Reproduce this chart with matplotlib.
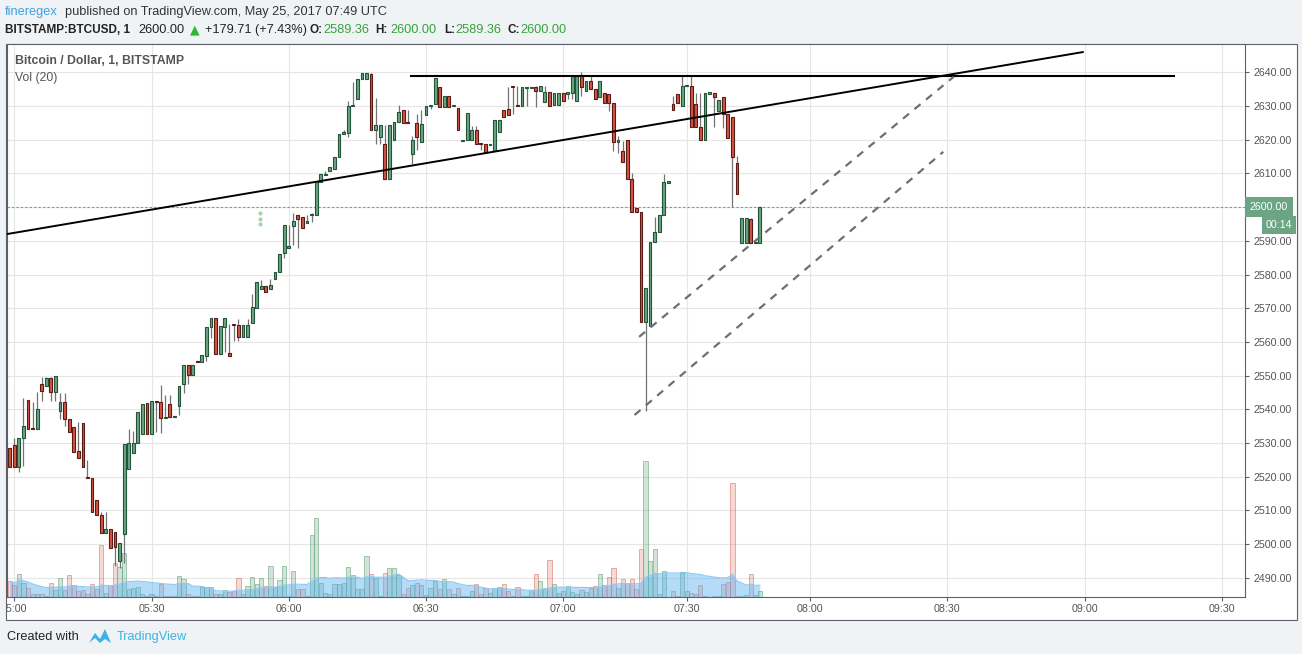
import matplotlib
matplotlib.use("Agg")
import matplotlib.pyplot as plt
import matplotlib.transforms as mtransforms
from matplotlib import font_manager
from matplotlib.patches import Rectangle, Polygon
import numpy as np
import pandas as pd

# BITSTAMP:BTCUSD 1 minute bars, 04:59 -> 07:49 UTC
opens = [2528.4, 2529.4, 2523.0, 2531.4, 2542.7, 2534.3, 2534.1, 2547.4, 2546.9, 2549.2,
         2545.2, 2539.6, 2542.2, 2537.0, 2534.7, 2527.6, 2535.8, 2519.6, 2519.5, 2513.0,
         2508.5, 2503.4, 2504.4, 2503.5, 2494.9, 2502.9, 2522.2, 2527.1, 2529.9, 2532.6,
         2541.8, 2532.6, 2542.4, 2542.1, 2537.4, 2541.6, 2537.8, 2541.1, 2547.5, 2553.1,
         2550.3, 2554.1, 2553.9, 2555.9, 2564.3, 2567.0, 2556.3, 2564.5, 2556.6, 2565.0,
         2564.9, 2561.5, 2561.5, 2565.5, 2570.2, 2575.6, 2576.6, 2575.6, 2578.7, 2580.7,
         2586.3, 2588.0, 2594.5, 2597.6, 2597.1, 2595.4, 2597.7, 2597.7, 2607.5, 2609.6,
         2610.8, 2611.2, 2614.8, 2621.8, 2621.9, 2629.9, 2632.0, 2637.9, 2637.9, 2639.4,
         2622.8, 2620.7, 2618.6, 2608.2, 2619.8, 2625.3, 2628.7, 2625.0, 2615.7, 2624.9,
         2619.2, 2627.2, 2629.9, 2630.5, 2635.5, 2629.8, 2633.0, 2629.9, 2629.3, 2619.7,
         2619.8, 2619.8, 2622.8, 2618.7, 2618.6, 2618.5, 2616.6, 2622.2, 2628.7, 2629.0,
         2635.6, 2630.0, 2629.9, 2635.4, 2635.4, 2635.5, 2634.5, 2631.3, 2634.1, 2630.4,
         2630.4, 2633.8, 2633.7, 2633.8, 2631.6, 2638.8, 2634.5, 2637.3, 2634.9, 2632.8,
         2633.8, 2633.5, 2630.8, 2619.2, 2616.6, 2619.8, 2608.2, 2599.6, 2598.5, 2565.8,
         2564.8, 2589.6, 2592.5, 2597.7, 2607.3, 2630.5, 2633.5, 2630.1, 2635.8, 2635.9,
         2630.5, 2623.9, 2619.8, 2633.7, 2633.8, 2628.6, 2632.8, 2627.6, 2626.6, 2613.0,
         2589.4, 2589.4, 2596.4, 2589.3, 2589.36]
highs = [2528.4, 2531.4, 2531.4, 2543.3, 2542.7, 2542.3, 2545.0, 2549.7, 2549.7, 2549.7,
         2549.9, 2544.7, 2544.8, 2537.0, 2534.7, 2536.3, 2535.8, 2525.0, 2519.5, 2513.0,
         2509.6, 2509.6, 2504.4, 2503.5, 2500.2, 2529.6, 2534.1, 2533.5, 2539.1, 2541.6,
         2541.8, 2542.4, 2542.4, 2547.2, 2544.2, 2544.2, 2537.9, 2546.9, 2553.1, 2553.1,
         2553.1, 2554.1, 2556.1, 2564.4, 2567.0, 2567.0, 2564.8, 2567.0, 2565.3, 2565.0,
         2566.7, 2564.9, 2566.7, 2574.2, 2577.7, 2578.4, 2576.6, 2578.7, 2580.7, 2586.1,
         2594.7, 2594.7, 2598.2, 2597.6, 2597.1, 2597.6, 2598.2, 2607.5, 2609.7, 2610.7,
         2611.8, 2614.8, 2621.7, 2622.9, 2631.5, 2637.0, 2637.9, 2639.7, 2639.7, 2639.7,
         2632.3, 2624.3, 2624.3, 2624.3, 2625.3, 2630.3, 2628.7, 2628.8, 2621.1, 2627.6,
         2628.8, 2630.0, 2630.0, 2638.4, 2635.5, 2633.0, 2633.0, 2630.0, 2629.3, 2619.8,
         2627.8, 2624.0, 2624.0, 2618.7, 2618.6, 2618.6, 2625.8, 2625.8, 2628.7, 2635.7,
         2636.0, 2635.9, 2635.5, 2635.5, 2635.5, 2636.0, 2635.8, 2636.0, 2634.1, 2633.8,
         2633.8, 2633.8, 2633.8, 2638.8, 2638.8, 2640.0, 2637.3, 2638.8, 2634.9, 2637.3,
         2633.8, 2633.5, 2630.8, 2621.1, 2619.5, 2619.8, 2610.2, 2599.6, 2598.5, 2575.9,
         2589.7, 2597.2, 2597.7, 2609.8, 2607.4, 2633.0, 2633.5, 2638.9, 2635.9, 2638.9,
         2634.0, 2633.8, 2633.8, 2633.8, 2633.8, 2631.7, 2632.8, 2627.6, 2626.6, 2615.2,
         2596.7, 2596.7, 2596.7, 2589.4, 2600.00]
lows = [2523.0, 2523.0, 2521.5, 2523.2, 2534.1, 2534.1, 2534.1, 2542.6, 2546.9, 2542.6,
        2542.6, 2537.1, 2535.1, 2533.2, 2527.4, 2525.6, 2523.0, 2519.5, 2509.6, 2508.5,
        2503.4, 2503.4, 2498.8, 2493.6, 2492.8, 2494.3, 2522.2, 2527.1, 2529.9, 2532.6,
        2532.6, 2532.6, 2533.4, 2533.0, 2537.4, 2537.6, 2537.8, 2538.3, 2544.7, 2547.4,
        2550.3, 2554.0, 2553.9, 2554.3, 2561.1, 2556.3, 2556.3, 2556.9, 2555.9, 2560.4,
        2560.4, 2561.5, 2561.5, 2565.5, 2570.2, 2575.6, 2574.9, 2575.6, 2578.7, 2580.7,
        2585.0, 2588.0, 2588.8, 2587.8, 2593.7, 2595.4, 2595.7, 2597.7, 2607.5, 2609.6,
        2610.8, 2611.2, 2614.8, 2621.8, 2620.9, 2629.9, 2632.0, 2637.9, 2637.9, 2622.8,
        2618.6, 2618.6, 2608.2, 2608.2, 2619.8, 2625.3, 2624.9, 2624.9, 2612.7, 2616.9,
        2619.2, 2627.2, 2629.0, 2630.5, 2629.8, 2629.8, 2629.8, 2629.9, 2622.8, 2619.7,
        2619.8, 2619.8, 2618.6, 2617.0, 2616.4, 2618.5, 2616.6, 2622.2, 2626.6, 2627.2,
        2627.5, 2629.9, 2629.9, 2630.1, 2635.4, 2629.8, 2634.5, 2631.3, 2629.9, 2630.4,
        2630.4, 2631.6, 2632.0, 2632.0, 2631.6, 2632.9, 2634.5, 2634.9, 2632.0, 2632.8,
        2630.8, 2628.5, 2616.7, 2616.1, 2613.3, 2608.2, 2598.5, 2598.5, 2565.8, 2539.6,
        2564.8, 2589.6, 2592.5, 2597.7, 2607.3, 2628.7, 2630.8, 2630.1, 2635.8, 2623.9,
        2623.9, 2619.8, 2619.8, 2633.7, 2623.9, 2628.6, 2623.4, 2620.4, 2600.0, 2603.8,
        2589.4, 2589.4, 2589.4, 2589.3, 2589.36]
closes = [2523.0, 2523.0, 2531.4, 2535.0, 2534.1, 2534.1, 2540.0, 2545.3, 2549.2, 2545.2,
          2549.9, 2542.2, 2537.0, 2533.2, 2527.4, 2525.6, 2523.0, 2519.5, 2509.6, 2508.5,
          2503.4, 2504.4, 2498.8, 2499.2, 2500.2, 2529.6, 2529.9, 2529.9, 2539.1, 2541.6,
          2532.6, 2542.4, 2542.2, 2537.3, 2537.6, 2537.6, 2537.9, 2546.9, 2553.1, 2550.3,
          2553.1, 2554.0, 2556.1, 2564.4, 2567.0, 2556.3, 2564.8, 2567.0, 2555.9, 2564.9,
          2561.5, 2564.9, 2564.9, 2570.4, 2577.7, 2576.6, 2574.9, 2576.8, 2580.7, 2586.1,
          2594.7, 2588.1, 2595.8, 2596.4, 2593.7, 2595.5, 2597.8, 2607.5, 2609.7, 2609.7,
          2611.8, 2614.8, 2621.7, 2621.9, 2630.0, 2630.0, 2637.9, 2639.7, 2639.7, 2622.8,
          2624.3, 2624.3, 2608.2, 2624.3, 2625.3, 2628.1, 2624.9, 2624.9, 2619.8, 2620.7,
          2624.6, 2630.0, 2630.0, 2638.4, 2629.8, 2633.0, 2629.8, 2630.0, 2622.8, 2619.8,
          2627.8, 2622.8, 2618.6, 2618.6, 2616.4, 2618.6, 2625.8, 2625.8, 2626.6, 2627.2,
          2635.5, 2629.9, 2635.5, 2635.5, 2635.5, 2634.5, 2635.8, 2634.1, 2629.9, 2633.8,
          2633.8, 2631.6, 2633.8, 2638.8, 2638.8, 2635.7, 2637.3, 2634.9, 2632.0, 2637.3,
          2630.8, 2630.8, 2619.2, 2619.8, 2613.3, 2608.2, 2598.5, 2598.5, 2565.8, 2575.9,
          2589.7, 2592.5, 2597.7, 2607.4, 2607.4, 2628.7, 2630.8, 2635.9, 2635.9, 2623.9,
          2623.9, 2619.8, 2633.8, 2633.8, 2632.8, 2631.7, 2627.6, 2620.4, 2615.0, 2603.8,
          2596.7, 2596.7, 2589.4, 2589.4, 2600.00]
volumes = [15.7, 12.3, 23.3, 14.3, 9.3, 3.3, 2.7, 2.7, 0.7, 14.3,
           6.7, 18.7, 6.7, 22.3, 12.3, 6.0, 6.7, 2.7, 13.3, 7.7,
           52.3, 4.3, 11.7, 34.3, 30.0, 44.3, 7.7, 9.0, 10.0, 3.3,
           1.0, 2.7, 0.7, 12.7, 0.7, 0.7, 0.7, 21.3, 18.3, 2.7,
           1.3, 0.7, 10.0, 10.0, 10.0, 2.7, 3.3, 7.3, 5.3, 6.0,
           18.7, 2.7, 11.3, 20.3, 12.7, 18.7, 11.3, 31.3, 10.3, 17.3,
           31.3, 0.7, 26.3, 7.7, 7.7, 0.7, 62.3, 79.3, 14.3, 4.3,
           3.3, 12.7, 12.7, 13.7, 30.3, 22.0, 7.7, 7.7, 41.3, 23.0,
           18.7, 1.0, 24.3, 28.7, 28.7, 22.0, 3.3, 9.3, 12.3, 13.7,
           11.7, 2.3, 8.7, 16.3, 7.7, 18.3, 7.7, 2.7, 8.7, 1.3,
           1.0, 6.3, 13.3, 2.7, 8.7, 4.3, 8.7, 10.3, 13.3, 6.3,
           0.7, 9.7, 1.3, 1.3, 7.3, 22.7, 16.3, 9.3, 36.7, 13.3,
           4.3, 6.0, 10.7, 5.3, 2.7, 6.7, 5.3, 9.3, 11.3, 23.3,
           12.3, 20.3, 29.3, 8.7, 17.7, 14.3, 17.7, 8.0, 48.3, 136.3,
           35.7, 48.3, 3.3, 25.7, 0.5, 6.3, 1.3, 24.3, 6.3, 4.3,
           3.3, 12.3, 1.3, 0.5, 1.3, 0.7, 13.3, 15.3, 114.3, 0.7,
           0.7, 2.0, 22.7, 2.0, 5.7]

tick_bars = [1, 31, 61, 91, 121, 148, 175, 205, 235, 265]
tick_labels = ["05:00", "05:30", "06:00", "06:30", "07:00",
               "07:30", "08:00", "08:30", "09:00", "09:30"]
price_ticks = list(range(2490, 2641, 10))

# hand drawn lines on the chart: (bar index pair, price pair)
resistance = ([87.7, 254.5], [2638.8, 2638.8])
trend_line = ([-0.6, 234.6], [2592.0, 2646.0])
channel_top = ([137.6, 206.4], [2561.5, 2638.7])
channel_bottom = ([136.6, 204.1], [2538.3, 2616.4])
marker_dots = ([54.8, 54.8, 54.8], [2598.3, 2596.6, 2594.9])

last_price = 2600.00
countdown = "00:14"

W, H = 1302, 654
names = {f.name for f in font_manager.fontManager.ttflist}
SANS = "Liberation Sans" if "Liberation Sans" in names else "DejaVu Sans"
NARROW = "Liberation Sans Narrow" if "Liberation Sans Narrow" in names else SANS
plt.rcParams["font.family"] = [SANS, "DejaVu Sans"]

UP, DOWN = "#6ba583", "#d75442"
UP_EDGE, DOWN_EDGE = "#225437", "#5b1a13"
AXIS = "#5d606b"


def fx(px):
    return px / W


def fy(py):
    return 1 - py / H


fig = plt.figure(figsize=(W / 100, H / 100), dpi=100)
fig.patch.set_facecolor("#f0f3f6")

# white chart frame (plot + price scale + time scale), behind the axes
fig.patches.append(Rectangle((fx(6), fy(620)), fx(1297) - fx(6), fy(44) - fy(620),
                             transform=fig.transFigure, facecolor="white",
                             edgecolor=AXIS, linewidth=0.8, zorder=-5))

# ax2: volume pane (bottom layer), ax: price pane on top
ax2 = fig.add_axes([fx(7), fy(597), fx(1245) - fx(7), fy(44) - fy(597)])
ax = ax2.twinx()
ax.set_zorder(ax2.get_zorder() + 1)
ax.patch.set_visible(False)
ax2.patch.set_facecolor("white")

x = np.arange(len(opens))
o = np.array(opens)
c = np.array(closes)
hi = np.array(highs)
lo = np.array(lows)
up = c >= o

ax.set_xlim(-0.6, 270.07)
ax.set_ylim(2484.3, 2648.4)
ax2.set_ylim(0, 553)

# grid under the volume
ymix = mtransforms.blended_transform_factory(ax2.transAxes, ax.transData)
for p in price_ticks:
    ax2.plot([0, 1], [p, p], transform=ymix, color="#e6e6e6", lw=0.8, zorder=0)
for tb in tick_bars:
    ax2.axvline(tb, color="#e6e6e6", lw=0.8, zorder=0)

# volume with its 20 bar average
vol_face = [(0.42, 0.65, 0.51, 0.3) if u else (0.84, 0.33, 0.26, 0.22) for u in up]
vol_edge = [(0.42, 0.65, 0.51, 0.6) if u else (0.84, 0.33, 0.26, 0.45) for u in up]
ax2.bar(x, volumes, width=0.92, color=vol_face, edgecolor=vol_edge, linewidth=0.7, zorder=1)
vol_ma = pd.Series(volumes).rolling(20, min_periods=1).mean()
ax2.fill_between(x, 0, vol_ma, color="#5ab0f0", alpha=0.45, lw=0, zorder=2)
ax2.plot(x, vol_ma, color="#8cc8f2", lw=0.8, zorder=2)
ax2.set_yticks([])
for s in ax2.spines.values():
    s.set_visible(False)

# candles
ax.vlines(x, lo, hi, color="#737375", lw=0.9, zorder=3)
body_lo = np.minimum(o, c)
body_h = np.maximum(np.abs(c - o), 0.35)
ax.bar(x, body_h, bottom=body_lo, width=0.62,
       color=[UP if u else DOWN for u in up],
       edgecolor=[UP_EDGE if u else DOWN_EDGE for u in up],
       linewidth=0.8, zorder=4)

ax.axhline(last_price, color=UP, lw=0.8, ls=(0, (2, 2)), zorder=2)
ax.scatter(*marker_dots, s=4, color="#a5d6a7", zorder=3)

# drawings
ax.plot(*resistance, color="black", lw=1.5, zorder=5)
ax.plot(*trend_line, color="black", lw=1.4, zorder=5)
ax.plot(*channel_top, color="#6f6f6f", lw=1.6, ls=(0, (3.5, 3.2)), zorder=5)
ax.plot(*channel_bottom, color="#6f6f6f", lw=1.6, ls=(0, (3.5, 3.2)), zorder=5)

# price scale (2600 label is covered by the last price tag)
ax.set_yticks(price_ticks, ["" if p == last_price else f"{p:.2f}" for p in price_ticks])
ax.tick_params(axis="y", direction="out", length=3, pad=3, labelsize=7.7,
               labelcolor="#555555", color=AXIS, width=0.8)
# time scale lives on the bottom (volume) axes
ax2.set_xticks(tick_bars, tick_labels)
ax2.tick_params(axis="x", direction="out", length=3, pad=2, labelsize=7.7,
                labelcolor="#555555", color=AXIS, width=0.8)
for lab in ax.get_yticklabels() + ax2.get_xticklabels():
    lab.set_fontfamily(NARROW)
for s in ax.spines.values():
    s.set_color(AXIS)
    s.set_linewidth(0.8)

xmix = mtransforms.blended_transform_factory(ax.transAxes, ax.transData)
ax.annotate(f"{last_price:.2f}", xy=(1.0, last_price), xycoords=xmix,
            xytext=(3.6, 0), textcoords="offset points", ha="left", va="center",
            fontsize=7.7, fontfamily=NARROW, color="white", annotation_clip=False, zorder=10,
            bbox=dict(boxstyle="square,pad=0.45", fc=UP, ec="none"))
fig.text(fx(1292), fy(225), countdown, ha="right", va="center", fontsize=7.7,
         fontfamily=NARROW, color="white",
         bbox=dict(boxstyle="square,pad=0.35", fc=UP, ec="none"))

# legend texts inside the pane
fig.text(fx(15), fy(61), "Bitcoin / Dollar, 1, BITSTAMP", ha="left", va="center",
         fontsize=8.8, color="#555555", fontweight="bold")
fig.text(fx(15), fy(78), "Vol (20)", ha="left", va="center", fontsize=8.8, color="#555555")

# header
GREEN = "#37a33b"
fig.text(fx(5), fy(12), "fineregex", fontsize=9.2, color="#3ba0e2", va="center")
fig.text(fx(65), fy(12), "published on TradingView.com, May 25, 2017 07:49 UTC",
         fontsize=9.2, color="#333333", va="center")
row = [(5, "BITSTAMP:BTCUSD, 1", "#222222", "bold"),
       (138, "2600.00", "#222222", "normal"),
       (205, "+179.71 (+7.43%)", "#222222", "normal"),
       (309, "O:", "#222222", "bold"), (323, "2589.36", GREEN, "normal"),
       (375, "H:", "#222222", "bold"), (390, "2600.00", GREEN, "normal"),
       (444, "L:", "#222222", "bold"), (455, "2589.36", GREEN, "normal"),
       (507, "C:", "#222222", "bold"), (520, "2600.00", GREEN, "normal")]
for px, txt, col, wt in row:
    fig.text(fx(px), fy(30), txt, fontsize=8.5 if wt == "bold" else 9.2, color=col,
             fontweight=wt, va="center")
fig.text(fx(190), fy(30), "\u25b2", fontsize=9, color="#2eb82e", va="center",
         fontfamily="DejaVu Sans")

# footer
fig.text(fx(7), fy(637), "Created with", fontsize=9.2, color="#222222", va="center")
logo = Polygon([(fx(89), fy(643)), (fx(95), fy(633)), (fx(100), fy(639)),
                (fx(105), fy(629)), (fx(111), fy(643)), (fx(105), fy(639)),
                (fx(100), fy(643)), (fx(95), fy(638))],
               closed=True, transform=fig.transFigure, facecolor="#3bb3e4", edgecolor="none")
fig.patches.append(logo)
fig.text(fx(117), fy(637), "TradingView", fontsize=9.2, color="#3bb3e4", va="center")

# first time label is cut by the left edge of the frame
clip = mtransforms.TransformedBbox(mtransforms.Bbox.from_extents(fx(7), 0, 1, 1), fig.transFigure)
for lab in ax2.get_xticklabels():
    lab.set_clip_box(clip)
    lab.set_clip_on(True)

fig.savefig("out.png", dpi=100, facecolor=fig.get_facecolor())
